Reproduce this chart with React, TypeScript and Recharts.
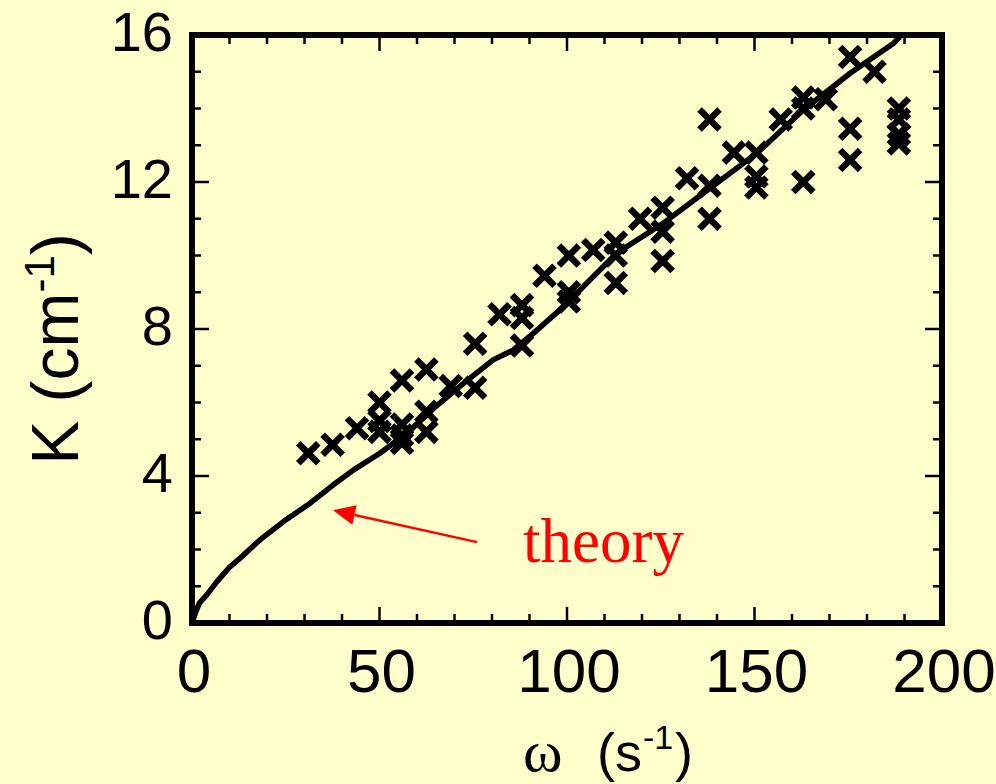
import { ScatterChart, Scatter, XAxis, YAxis, ReferenceLine } from "recharts";

// measured attenuation K (cm^-1) vs frequency omega (s^-1)
const measOmega = [
  31, 37.5, 44, 50, 50, 50, 56, 56, 56, 56, 62.5, 62.5, 62.5, 69, 75.5, 75.5, 82, 88, 88, 88,
  94, 100.5, 100.5, 100.5, 107, 113, 113, 113, 119.5, 125.5, 125.5, 125.5, 132, 138, 138, 138,
  144.5, 150.5, 150.5, 150.5, 157, 163, 163, 163, 169, 175.5, 175.5, 175.5, 182, 188.5, 188.5,
  188.5, 188.5,
];
const measK = [
  4.62, 4.85, 5.3, 6.0, 5.5, 5.2, 6.6, 5.4, 5.1, 4.9, 6.9, 5.75, 5.2, 6.45, 6.4, 7.6, 8.4, 8.65,
  8.3, 7.55, 9.45, 10.0, 9.0, 8.75, 10.15, 10.35, 10.0, 9.25, 11.0, 11.3, 10.65, 9.85, 12.1, 13.7,
  11.9, 11.0, 12.8, 12.8, 12.15, 11.85, 13.7, 14.3, 14.0, 12.0, 14.25, 15.4, 13.45, 12.6, 15.0,
  14.0, 13.7, 13.3, 13.05,
];

// theory curve
const theoryOmega = [
  0, 1, 2, 3.9, 6.6, 10.1, 12.8, 18.1, 24.4, 31.5, 37.7, 43, 50.1, 57.3, 64.4, 72.4, 80.3, 85.7,
  91, 98.1, 100.8, 113.2, 125.7, 138.1, 150.6, 163, 175.5, 187, 188.8,
];
const theoryK = [
  0, 0.3, 0.55, 0.76, 1.12, 1.53, 1.76, 2.26, 2.76, 3.26, 3.76, 4.16, 4.62, 5.16, 5.84, 6.52,
  7.16, 7.43, 7.88, 8.52, 8.79, 10.06, 10.88, 11.83, 12.78, 13.96, 14.96, 15.77, 15.95,
];

const xTicks = Array.from({ length: 21 }, (_, i) => i * 10);
const yTicks = Array.from({ length: 17 }, (_, i) => i);

const measured = measOmega.map((x, i) => ({ x, y: measK[i] }));
const theory = theoryOmega.map((x, i) => ({ x, y: theoryK[i] }));

const W = 996;
const H = 784;
const PLOT_W = 750;
const PLOT_H = 588;
const BG = "#ffffcc";
const SANS = "Arial, 'Liberation Sans', sans-serif";
const SERIF = "'Times New Roman', 'Liberation Serif', serif";
const frame = { stroke: "#000", strokeWidth: 6, strokeLinecap: "square" as const };

const XTick = (props: any) => {
  const { x, y, payload } = props;
  const major = payload.value % 50 === 0;
  const len = major ? 16 : 9;
  return (
    <g>
      <line x1={x} y1={y} x2={x} y2={y - len} stroke="#000" strokeWidth={2.5} />
      <line x1={x} y1={y - PLOT_H} x2={x} y2={y - PLOT_H + len} stroke="#000" strokeWidth={2.5} />
      {major && (
        <text x={x + 2} y={y + 69} textAnchor="middle" fontSize={62} fontFamily={SANS} fill="#000">
          {payload.value}
        </text>
      )}
    </g>
  );
};

const YTick = (props: any) => {
  const { x, y, payload } = props;
  const major = payload.value % 4 === 0;
  const len = major ? 17 : 9;
  return (
    <g>
      <line x1={x} y1={y} x2={x + len} y2={y} stroke="#000" strokeWidth={2.5} />
      <line x1={x + PLOT_W} y1={y} x2={x + PLOT_W - len} y2={y} stroke="#000" strokeWidth={2.5} />
      {major && (
        <text x={x - 19} y={y + 16} textAnchor="end" fontSize={56} fontFamily={SANS} fill="#000">
          {payload.value}
        </text>
      )}
    </g>
  );
};

const Cross = (props: any) => {
  const { cx, cy } = props;
  const r = 10;
  return (
    <g stroke="#000" strokeWidth={6.5}>
      <line x1={cx - r} y1={cy - r} x2={cx + r} y2={cy + r} />
      <line x1={cx - r} y1={cy + r} x2={cx + r} y2={cy - r} />
    </g>
  );
};

const NoDot = () => <g />;

// thick polyline through the scatter's own projected points
const TheoryPath = (props: any) => {
  const pts = props.points || [];
  const d = pts.map((p: any, i: number) => `${i ? "L" : "M"}${p.x},${p.y}`).join(" ");
  return <path d={d} fill="none" stroke="#000" strokeWidth={5.5} strokeLinejoin="round" />;
};

// red arrow pointing at the curve, with its label
const TheoryArrow = (props: any) => {
  const { x1, y1, x2, y2 } = props;
  const ang = Math.atan2(y2 - y1, x2 - x1);
  const hl = 22;
  const hw = 10;
  const bx = x2 - hl * Math.cos(ang);
  const by = y2 - hl * Math.sin(ang);
  const px = -Math.sin(ang) * hw;
  const py = Math.cos(ang) * hw;
  return (
    <g>
      <line x1={x1} y1={y1} x2={bx} y2={by} stroke="#ff0000" strokeWidth={2.5} />
      <polygon points={`${x2},${y2} ${bx + px},${by + py} ${bx - px},${by - py}`} fill="#ff0000" />
      <text x={x1 + 46} y={y1 + 20} fontSize={63} fontFamily={SERIF} fill="#ff0000">
        theory
      </text>
    </g>
  );
};

export default function App() {
  return (
    <div style={{ position: "absolute", left: 0, top: 0, width: W, height: H, background: BG }}>
      <ScatterChart width={W} height={H} margin={{ top: 35, right: 54, left: 0, bottom: 0 }}>
        <XAxis
          type="number"
          dataKey="x"
          domain={[0, 200]}
          ticks={xTicks}
          interval={0}
          height={161}
          tickSize={0}
          tickMargin={0}
          tickLine={false}
          axisLine={frame}
          tick={XTick}
        />
        <YAxis
          type="number"
          dataKey="y"
          domain={[0, 16]}
          ticks={yTicks}
          interval={0}
          width={192}
          tickSize={0}
          tickMargin={0}
          tickLine={false}
          axisLine={frame}
          tick={YTick}
        />
        <ReferenceLine y={16} ifOverflow="visible" {...frame} />
        <ReferenceLine x={200} ifOverflow="visible" {...frame} />
        <Scatter data={theory} line={TheoryPath} shape={NoDot} isAnimationActive={false} />
        <Scatter data={measured} shape={Cross} isAnimationActive={false} />
        <ReferenceLine
          segment={[
            { x: 76, y: 2.2 },
            { x: 37.6, y: 3.07 },
          ]}
          ifOverflow="visible"
          shape={TheoryArrow}
        />
      </ScatterChart>
      <svg width={W} height={H} style={{ position: "absolute", left: 0, top: 0, pointerEvents: "none" }}>
        <text
          transform="translate(78,349) rotate(-90)"
          textAnchor="middle"
          fontSize={66}
          fontFamily={SANS}
          fill="#000"
        >
          K (cm
          <tspan dy={-24} fontSize={42}>
            -1
          </tspan>
          <tspan dy={24}>)</tspan>
        </text>
        <text x={523} y={771} fontSize={60} fontFamily={SERIF} fill="#000">
          ω
        </text>
        <text x={597} y={771} fontSize={54} fontFamily={SANS} fill="#000">
          (s
        </text>
        <text x={643} y={749} fontSize={34} fontFamily={SANS} fill="#000">
          -1
        </text>
        <text x={675} y={771} fontSize={54} fontFamily={SANS} fill="#000">
          )
        </text>
      </svg>
    </div>
  );
}
